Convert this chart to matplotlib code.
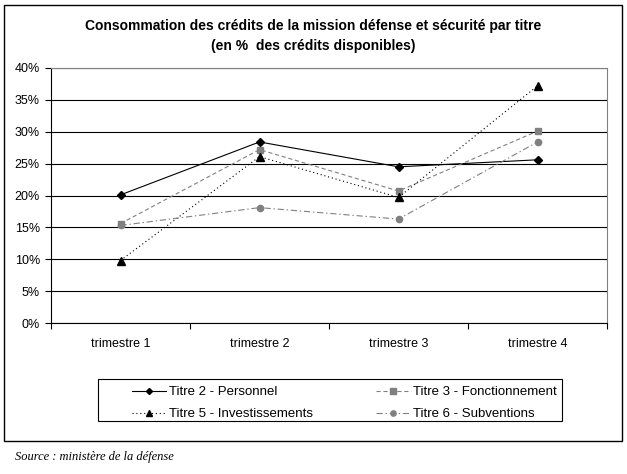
"""Consommation des crédits de la mission défense et sécurité, par titre et par trimestre."""

import matplotlib

matplotlib.use("Agg")
import matplotlib.pyplot as plt  # noqa: E402
from matplotlib.lines import Line2D  # noqa: E402
from matplotlib.patches import Rectangle  # noqa: E402
from matplotlib.ticker import FixedLocator, PercentFormatter  # noqa: E402

TRIMESTRES = ["trimestre 1", "trimestre 2", "trimestre 3", "trimestre 4"]

# values, in % of available credits
TITRE_2 = [20.1, 28.4, 24.5, 25.6]
TITRE_3 = [15.6, 27.2, 20.7, 30.1]
TITRE_5 = [9.8, 26.1, 19.7, 37.2]
TITRE_6 = [15.3, 18.1, 16.3, 28.4]

LABELS = [
    "Titre 2 - Personnel",
    "Titre 3 - Fonctionnement",
    "Titre 5 - Investissements",
    "Titre 6 - Subventions",
]
Y_TICKS = [0, 5, 10, 15, 20, 25, 30, 35, 40]

TITLE = "Consommation des crédits de la mission défense et sécurité par titre"
SUBTITLE = "(en %  des crédits disponibles)"
SOURCE = "Source : ministère de la défense"

W, H = 627, 474
GRAY = "#808080"

plt.rcParams["font.family"] = ["Liberation Sans", "DejaVu Sans"]
plt.rcParams["lines.scale_dashes"] = False


def px_box(x0, y0, x1, y1):
    """Pixel box (top-left origin) -> figure fraction [left, bottom, w, h]."""
    return [x0 / W, 1 - y1 / H, (x1 - x0) / W, (y1 - y0) / H]


fig = plt.figure(figsize=(W / 100, H / 100), dpi=100)
ax = fig.add_axes(px_box(51, 68, 607, 323))

x = list(range(len(TRIMESTRES)))
series = [
    (TITRE_2, dict(color="black", ls="-", marker="D", ms=3.6)),
    (TITRE_3, dict(color=GRAY, ls=(0, (3, 2)), marker="s", ms=5)),
    (TITRE_5, dict(color="black", ls=(0, (0.8, 2)), marker="^", ms=5.5)),
    (TITRE_6, dict(color=GRAY, ls=(0, (4.5, 2, 1, 2)), marker="o", ms=4.5)),
]
for (values, style), label in zip(series, LABELS):
    ax.plot(x, values, lw=0.8, label=label, zorder=3, **style)

ax.set_xlim(-0.5, len(TRIMESTRES) - 0.5)
ax.set_ylim(0, 40)
ax.set_xticks(x)
ax.set_xticklabels(TRIMESTRES)
ax.xaxis.set_minor_locator(FixedLocator([i - 0.5 for i in range(len(TRIMESTRES) + 1)]))
ax.tick_params(axis="x", which="major", length=0, pad=11, labelsize=9)
ax.tick_params(axis="x", which="minor", length=4, width=0.8, color="black")
ax.set_yticks(Y_TICKS)
ax.yaxis.set_major_formatter(PercentFormatter(decimals=0))
ax.tick_params(axis="y", length=4, width=0.8, pad=4, labelsize=9)

ax.yaxis.grid(True, color="black", lw=0.8)
ax.set_axisbelow(True)
for side in ("left", "bottom"):
    ax.spines[side].set_color("black")
    ax.spines[side].set_linewidth(0.8)
for side in ("top", "right"):
    ax.spines[side].set_color(GRAY)
    ax.spines[side].set_linewidth(0.8)
ax.spines["top"].set_zorder(2.5)

fig.text(313 / W, 1 - 26 / H, TITLE, ha="center", va="center",
         fontsize=10, fontweight="bold")
fig.text(313 / W, 1 - 46 / H, SUBTITLE, ha="center", va="center",
         fontsize=10, fontweight="bold")

# legend: column 1 = titres 2 & 5, column 2 = titres 3 & 6
order = [0, 2, 1, 3]
handles = [Line2D([], [], lw=0.8, **series[i][1]) for i in order]
fig.legend(handles, [LABELS[i] for i in order], ncol=2, loc="upper left",
           bbox_to_anchor=(132 / W, 1 - 386 / H), frameon=False, fontsize=9.5,
           handlelength=2.6, handletextpad=0.2, columnspacing=4.8,
           borderpad=0, borderaxespad=0, labelspacing=0.75, markerscale=0.85)
fig.add_artist(Rectangle((98 / W, 1 - 421 / H), (562 - 98) / W, (421 - 379) / H,
                         transform=fig.transFigure, fill=False,
                         ec="black", lw=0.8))

# outer chart frame
fig.add_artist(Rectangle((4 / W, 1 - 441 / H), (622 - 4) / W, (441 - 5) / H,
                         transform=fig.transFigure, fill=False,
                         ec="black", lw=1.0))

fig.text(15 / W, 1 - 457 / H, SOURCE, va="center", fontsize=9,
         family="Liberation Serif", style="italic")

fig.savefig("out.png", dpi=100)
